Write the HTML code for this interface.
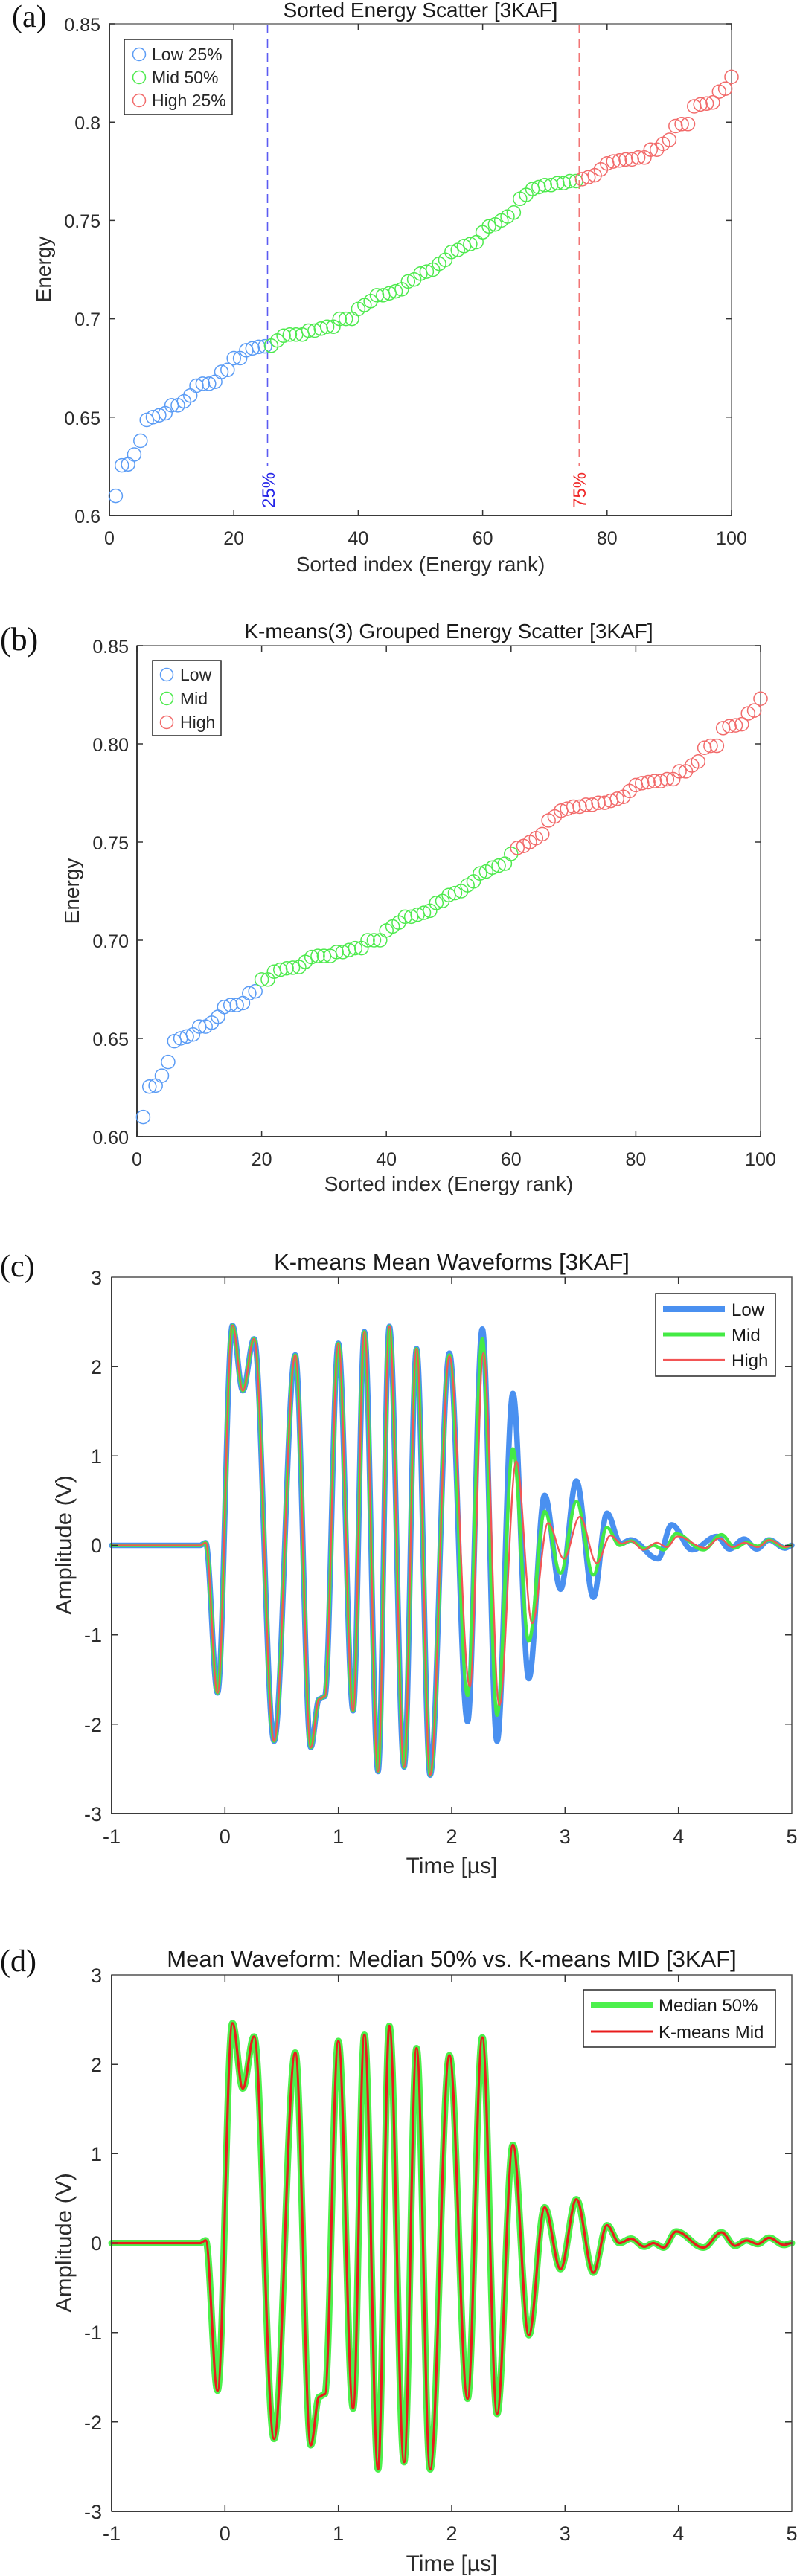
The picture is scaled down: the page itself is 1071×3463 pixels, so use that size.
<!DOCTYPE html>
<html><head><meta charset="utf-8">
<style>html,body{margin:0;padding:0;background:#fff}svg{display:block}</style>
</head><body>
<svg xmlns="http://www.w3.org/2000/svg" width="1071" height="3463" viewBox="0 0 1071 3463" font-family="'Liberation Sans', Arial, sans-serif">
<rect width="1071" height="3463" fill="#fff"/>
<defs>
<g id="gA">
<circle cx="155.4" cy="666.6" r="9"/><circle cx="163.7" cy="625.6" r="9"/><circle cx="172.1" cy="624.3" r="9"/><circle cx="180.4" cy="611.0" r="9"/><circle cx="188.8" cy="592.5" r="9"/><circle cx="197.2" cy="564.5" r="9"/><circle cx="205.5" cy="560.8" r="9"/><circle cx="213.9" cy="558.2" r="9"/><circle cx="222.2" cy="555.5" r="9"/><circle cx="230.6" cy="544.9" r="9"/><circle cx="239.0" cy="544.9" r="9"/><circle cx="247.3" cy="539.6" r="9"/><circle cx="255.7" cy="531.7" r="9"/><circle cx="264.0" cy="518.5" r="9"/><circle cx="272.4" cy="515.9" r="9"/><circle cx="280.8" cy="515.9" r="9"/><circle cx="289.1" cy="513.2" r="9"/><circle cx="297.5" cy="500.0" r="9"/><circle cx="305.8" cy="497.3" r="9"/>
</g>
<g id="gB">
<circle cx="314.2" cy="481.5" r="9"/><circle cx="322.6" cy="481.5" r="9"/><circle cx="330.9" cy="470.9" r="9"/><circle cx="339.3" cy="468.3" r="9"/><circle cx="347.6" cy="466.4" r="9"/><circle cx="356.0" cy="465.6" r="9"/>
</g>
<g id="gC">
<circle cx="364.4" cy="464.8" r="9"/><circle cx="372.7" cy="457.7" r="9"/><circle cx="381.1" cy="451.3" r="9"/><circle cx="389.4" cy="449.8" r="9"/><circle cx="397.8" cy="449.8" r="9"/><circle cx="406.2" cy="449.8" r="9"/><circle cx="414.5" cy="444.5" r="9"/><circle cx="422.9" cy="444.5" r="9"/><circle cx="431.2" cy="441.8" r="9"/><circle cx="439.6" cy="439.2" r="9"/><circle cx="448.0" cy="439.2" r="9"/><circle cx="456.3" cy="428.6" r="9"/><circle cx="464.7" cy="428.6" r="9"/><circle cx="473.0" cy="428.6" r="9"/><circle cx="481.4" cy="415.4" r="9"/><circle cx="489.8" cy="410.1" r="9"/><circle cx="498.1" cy="404.8" r="9"/><circle cx="506.5" cy="396.9" r="9"/><circle cx="514.8" cy="396.9" r="9"/><circle cx="523.2" cy="394.2" r="9"/><circle cx="531.6" cy="391.6" r="9"/><circle cx="539.9" cy="388.9" r="9"/><circle cx="548.3" cy="378.4" r="9"/><circle cx="556.6" cy="375.7" r="9"/><circle cx="565.0" cy="367.8" r="9"/><circle cx="573.4" cy="365.1" r="9"/><circle cx="581.7" cy="362.5" r="9"/><circle cx="590.1" cy="354.6" r="9"/><circle cx="598.4" cy="349.3" r="9"/><circle cx="606.8" cy="338.7" r="9"/><circle cx="615.2" cy="336.1" r="9"/><circle cx="623.5" cy="330.8" r="9"/><circle cx="631.9" cy="328.1" r="9"/><circle cx="640.2" cy="325.5" r="9"/><circle cx="648.6" cy="312.3" r="9"/>
</g>
<g id="gD">
<circle cx="657.0" cy="304.3" r="9"/><circle cx="665.3" cy="301.7" r="9"/><circle cx="673.7" cy="296.4" r="9"/><circle cx="682.0" cy="291.1" r="9"/><circle cx="690.4" cy="285.8" r="9"/><circle cx="698.8" cy="267.3" r="9"/><circle cx="707.1" cy="262.0" r="9"/><circle cx="715.5" cy="254.1" r="9"/><circle cx="723.8" cy="251.5" r="9"/><circle cx="732.2" cy="248.8" r="9"/><circle cx="740.6" cy="248.8" r="9"/><circle cx="748.9" cy="246.2" r="9"/><circle cx="757.3" cy="246.2" r="9"/><circle cx="765.6" cy="243.5" r="9"/><circle cx="774.0" cy="243.5" r="9"/>
</g>
<g id="gE">
<circle cx="782.4" cy="240.9" r="9"/><circle cx="790.7" cy="238.2" r="9"/><circle cx="799.1" cy="235.6" r="9"/><circle cx="807.4" cy="227.7" r="9"/><circle cx="815.8" cy="219.7" r="9"/><circle cx="824.2" cy="217.1" r="9"/><circle cx="832.5" cy="215.8" r="9"/><circle cx="840.9" cy="214.4" r="9"/><circle cx="849.2" cy="214.4" r="9"/><circle cx="857.6" cy="211.8" r="9"/><circle cx="866.0" cy="211.8" r="9"/><circle cx="874.3" cy="201.2" r="9"/><circle cx="882.7" cy="201.2" r="9"/><circle cx="891.0" cy="193.3" r="9"/><circle cx="899.4" cy="188.0" r="9"/><circle cx="907.8" cy="169.5" r="9"/><circle cx="916.1" cy="166.8" r="9"/><circle cx="924.5" cy="166.8" r="9"/><circle cx="932.8" cy="143.0" r="9"/><circle cx="941.2" cy="140.4" r="9"/><circle cx="949.6" cy="139.3" r="9"/><circle cx="957.9" cy="137.8" r="9"/><circle cx="966.3" cy="123.2" r="9"/><circle cx="974.6" cy="119.3" r="9"/><circle cx="983.0" cy="103.4" r="9"/>
</g>
</defs>

<!-- ===================== (a) ===================== -->
<text x="16" y="36" font-family="'Liberation Serif', 'Times New Roman', serif" font-size="42" fill="#111">(a)</text>
<text x="565" y="23" text-anchor="middle" font-size="28" fill="#1a1a1a">Sorted Energy Scatter [3KAF]</text>
<rect x="147" y="32" width="836" height="661" fill="none" stroke="#6a6a6a" stroke-width="1.5"/>
<path d="M147 32V693M147 693H983" stroke="#3a3a3a" stroke-width="2" fill="none"/>
<path d="M147 693V685M314.2 693V685M481.4 693V685M648.6 693V685M815.8 693V685M983 693V685M147 32V40M314.2 32V40M481.4 32V40M648.6 32V40M815.8 32V40M983 32V40M147 32H155M147 164.2H155M147 296.4H155M147 428.6H155M147 560.8H155M147 693H155M983 32H975M983 164.2H975M983 296.4H975M983 428.6H975M983 560.8H975M983 693H975" stroke="#333" stroke-width="1.5" fill="none"/>
<g font-size="25" fill="#2b2b2b" text-anchor="end">
<text x="135" y="42">0.85</text><text x="135" y="174">0.8</text><text x="135" y="306">0.75</text><text x="135" y="438">0.7</text><text x="135" y="571">0.65</text><text x="135" y="703">0.6</text>
</g>
<g font-size="25" fill="#2b2b2b" text-anchor="middle">
<text x="147" y="732">0</text><text x="314.2" y="732">20</text><text x="481.4" y="732">40</text><text x="648.6" y="732">60</text><text x="815.8" y="732">80</text><text x="983" y="732">100</text>
</g>
<text x="565" y="768" text-anchor="middle" font-size="28" fill="#2b2b2b">Sorted index (Energy rank)</text>
<text transform="translate(68,362) rotate(-90)" text-anchor="middle" font-size="28" fill="#2b2b2b">Energy</text>
<line x1="359.5" y1="33" x2="359.5" y2="627" stroke="#5b5bf2" stroke-width="1.6" stroke-dasharray="12 7"/>
<line x1="778.3" y1="33" x2="778.3" y2="627" stroke="#f27575" stroke-width="1.6" stroke-dasharray="12 7"/>
<g fill="none" stroke-width="1.5">
<use href="#gA" stroke="#5b9cf5"/>
<use href="#gB" stroke="#5b9cf5"/>
<use href="#gC" stroke="#4eea4e"/>
<use href="#gD" stroke="#4eea4e"/>
<use href="#gE" stroke="#f26b6b"/>
</g>
<text transform="translate(369,683) rotate(-90)" font-size="24" fill="#2626e8">25%</text>
<text transform="translate(787,683) rotate(-90)" font-size="24" fill="#f02a2a">75%</text>
<rect x="167" y="53" width="145" height="101" fill="#fff" stroke="#262626" stroke-width="1.5"/>
<circle cx="187" cy="73" r="8.5" fill="none" stroke="#5b9cf5" stroke-width="1.5"/>
<circle cx="187" cy="104" r="8.5" fill="none" stroke="#4eea4e" stroke-width="1.5"/>
<circle cx="187" cy="135" r="8.5" fill="none" stroke="#f26b6b" stroke-width="1.5"/>
<g font-size="23" fill="#262626">
<text x="204" y="81">Low 25%</text><text x="204" y="112">Mid 50%</text><text x="204" y="143">High 25%</text>
</g>

<!-- ===================== (b) ===================== -->
<text x="0" y="874" font-family="'Liberation Serif', 'Times New Roman', serif" font-size="44" fill="#111">(b)</text>
<text x="603" y="858" text-anchor="middle" font-size="28" fill="#1a1a1a">K-means(3) Grouped Energy Scatter [3KAF]</text>
<rect x="184" y="868" width="838" height="660" fill="none" stroke="#6a6a6a" stroke-width="1.5"/>
<path d="M184 868V1528M184 1528H1022" stroke="#3a3a3a" stroke-width="2" fill="none"/>
<path d="M184 1528V1520M351.6 1528V1520M519.2 1528V1520M686.8 1528V1520M854.4 1528V1520M1022 1528V1520M184 868V876M351.6 868V876M519.2 868V876M686.8 868V876M854.4 868V876M1022 868V876M184 868H192M184 1000H192M184 1132H192M184 1264H192M184 1396H192M184 1528H192M1022 868H1014M1022 1000H1014M1022 1132H1014M1022 1264H1014M1022 1396H1014M1022 1528H1014" stroke="#333" stroke-width="1.5" fill="none"/>
<g font-size="25" fill="#2b2b2b" text-anchor="end">
<text x="173" y="878">0.85</text><text x="173" y="1010">0.80</text><text x="173" y="1142">0.75</text><text x="173" y="1274">0.70</text><text x="173" y="1406">0.65</text><text x="173" y="1538">0.60</text>
</g>
<g font-size="25" fill="#2b2b2b" text-anchor="middle">
<text x="184" y="1567">0</text><text x="351.6" y="1567">20</text><text x="519.2" y="1567">40</text><text x="686.8" y="1567">60</text><text x="854.4" y="1567">80</text><text x="1022" y="1567">100</text>
</g>
<text x="603" y="1601" text-anchor="middle" font-size="28" fill="#2b2b2b">Sorted index (Energy rank)</text>
<text transform="translate(106,1198) rotate(-90)" text-anchor="middle" font-size="28" fill="#2b2b2b">Energy</text>
<g fill="none" stroke-width="1.5" transform="matrix(1.002392 0 0 0.998487 36.648 836.05)">
<use href="#gA" stroke="#5b9cf5"/>
<use href="#gB" stroke="#4eea4e"/>
<use href="#gC" stroke="#4eea4e"/>
<use href="#gD" stroke="#f26b6b"/>
<use href="#gE" stroke="#f26b6b"/>
</g>
<rect x="205" y="888" width="92" height="101" fill="#fff" stroke="#262626" stroke-width="1.5"/>
<circle cx="224" cy="907" r="8.5" fill="none" stroke="#5b9cf5" stroke-width="1.5"/>
<circle cx="224" cy="939" r="8.5" fill="none" stroke="#4eea4e" stroke-width="1.5"/>
<circle cx="224" cy="971" r="8.5" fill="none" stroke="#f26b6b" stroke-width="1.5"/>
<g font-size="23" fill="#262626">
<text x="242" y="915">Low</text><text x="242" y="947">Mid</text><text x="242" y="979">High</text>
</g>

<!-- ===================== (c) ===================== -->
<text x="0" y="1716" font-family="'Liberation Serif', 'Times New Roman', serif" font-size="42" fill="#111">(c)</text>
<text x="607" y="1707" text-anchor="middle" font-size="31" fill="#1a1a1a">K-means Mean Waveforms [3KAF]</text>
<g transform="translate(302.33,2077.5) scale(1.52333,1.2017)" fill="none" stroke-linejoin="round" stroke-linecap="round">
<path vector-effect="non-scaling-stroke" stroke="#4a90f0" stroke-width="7.5" d="M-100 0L-22 0C-20.2 0 -18.8 -3 -17 -3C-13.3 -3 -10.3 165 -6.6 165C-1.8 165 1.8 -246 6.6 -246C9.9 -246 12.4 -173 15.7 -173C19.3 -173 22 -231 25.6 -231C32 -231 36.9 219 43.3 219C50 219 55.3 -213 62 -213C66.9 -213 70.8 226 75.7 226C78.3 226 80.4 172 83 172C84.8 172 86.2 169 88 169C92.3 169 95.7 -226 100 -226C104.7 -226 108.3 185 113 185C116.6 185 119.4 -239 123 -239C127.3 -239 130.7 253 135 253C138.6 253 141.4 -245 145 -245C149.7 -245 153.3 248 158 248C162 248 165 -220 169 -220C173.3 -220 176.7 257 181 257C187.1 257 191.9 -215 198 -215C203.8 -215 208.2 197 214 197C218.7 197 222.3 -242 227 -242C231.7 -242 235.3 219 240 219C245 219 249 -170 254 -170C259 -170 263 149 268 149C273 149 277 -56 282 -56C287 -56 291 49 296 49C301 49 305 -72 310 -72C315.4 -72 319.6 58 325 58C329.3 58 332.7 -36 337 -36C341.3 -36 344.7 -2 349 -2C352.2 -2 354.8 -6 358 -6C366.6 -6 373.4 15 382 15C386.3 15 389.7 -23 394 -23C400.5 -23 405.5 5 412 5C419.9 5 426.1 -10 434 -10C438 -10 441 4 445 4C449.7 4 453.3 -7 458 -7C462 -7 465 4 469 4C473 4 476 -6 480 -6C485 -6 489 3 494 3C496.2 3 497.8 0 500 0"/>
<path vector-effect="non-scaling-stroke" stroke="#44ea44" stroke-width="4.5" d="M-100 0L-22 0C-20.2 0 -18.8 -3 -17 -3C-13.3 -3 -10.3 165 -6.6 165C-1.8 165 1.8 -246 6.6 -246C9.9 -246 12.4 -173 15.7 -173C19.3 -173 22 -231 25.6 -231C32 -231 36.9 219 43.3 219C50 219 55.3 -213 62 -213C66.9 -213 70.8 226 75.7 226C78.3 226 80.4 172 83 172C84.8 172 86.2 169 88 169C92.3 169 95.7 -226 100 -226C104.7 -226 108.3 185 113 185C116.6 185 119.4 -239 123 -239C127.3 -239 130.7 253 135 253C138.6 253 141.4 -245 145 -245C149.7 -245 153.3 248 158 248C162 248 165 -220 169 -220C173.3 -220 176.7 257 181 257C187.1 257 191.9 -213 198 -213C203.8 -213 208.2 168 214 168C218.7 168 222.3 -231 227 -231C231.7 -231 235.3 190 240 190C245 190 249 -108 254 -108C259 -108 263 107 268 107C273 107 277 -38 282 -38C287 -38 291 31 296 31C301 31 305 -49 310 -49C315.4 -49 319.6 33 325 33C329.3 33 332.7 -20 337 -20C341 -20 344 0 348 0C351.6 0 354.4 -5 358 -5C362.3 -5 365.7 4 370 4C372.9 4 375.1 0 378 0C381.2 0 383.8 5 387 5C391 5 394 -13 398 -13C406.6 -13 413.4 5 422 5C427.8 5 432.2 -12 438 -12C442.3 -12 445.7 3 450 3C453.6 3 456.4 -3 460 -3C463.6 -3 466.4 1 470 1C473.6 1 476.4 -6 480 -6C484.7 -6 488.3 2 493 2C495.5 2 497.5 0 500 0"/>
<path vector-effect="non-scaling-stroke" stroke="#f25555" stroke-width="2.3" d="M-100 0L-22 0C-20.2 0 -18.8 -3 -17 -3C-13.3 -3 -10.3 165 -6.6 165C-1.8 165 1.8 -246 6.6 -246C9.9 -246 12.4 -173 15.7 -173C19.3 -173 22 -231 25.6 -231C32 -231 36.9 219 43.3 219C50 219 55.3 -213 62 -213C66.9 -213 70.8 226 75.7 226C78.3 226 80.4 172 83 172C84.8 172 86.2 169 88 169C92.3 169 95.7 -226 100 -226C104.7 -226 108.3 185 113 185C116.6 185 119.4 -239 123 -239C127.3 -239 130.7 253 135 253C138.6 253 141.4 -245 145 -245C149.7 -245 153.3 248 158 248C162 248 165 -220 169 -220C173.3 -220 176.7 257 181 257C187.1 257 191.9 -212 198 -212C204.5 -212 209.5 158 216 158C220.3 158 223.7 -215 228 -215C233 -215 237 179 242 179C247.4 179 251.6 -94 257 -94C262 -94 266 87 271 87C276 87 280 -25 285 -25C290 -25 294 15 299 15C304 15 308 -32 313 -32C318.4 -32 322.6 20 328 20C332.3 20 335.7 -11 340 -11C343.6 -11 346.4 -2 350 -2C352.9 -2 355.1 -5 358 -5C362 -5 365 5 369 5C373.3 5 376.7 -3 381 -3C384.2 -3 386.8 2 390 2C393.2 2 395.8 -10 399 -10C408 -10 415 3 424 3C428.3 3 431.7 -8 436 -8C440.3 -8 443.7 2 448 2C451.6 2 454.4 -3 458 -3C462.3 -3 465.7 2 470 2C473.6 2 476.4 -6 480 -6C485.4 -6 489.6 2 495 2C496.8 2 498.2 0 500 0"/>
</g>
<rect x="150" y="1717" width="914" height="721" fill="none" stroke="#505050" stroke-width="1.5"/>
<path d="M150 1717V2438M150 2438H1064" stroke="#3a3a3a" stroke-width="2" fill="none"/>
<path d="M302.3 2438V2429M454.7 2438V2429M607 2438V2429M759.3 2438V2429M911.7 2438V2429M302.3 1717V1726M454.7 1717V1726M607 1717V1726M759.3 1717V1726M911.7 1717V1726M150 1837.2H159M150 1957.3H159M150 2077.5H159M150 2197.7H159M150 2317.8H159M1064 1837.2H1055M1064 1957.3H1055M1064 2077.5H1055M1064 2197.7H1055M1064 2317.8H1055" stroke="#333" stroke-width="1.5" fill="none"/>
<g font-size="27" fill="#2b2b2b" text-anchor="end">
<text x="137" y="1727">3</text><text x="137" y="1847">2</text><text x="137" y="1967">1</text><text x="137" y="2087">0</text><text x="137" y="2207">-1</text><text x="137" y="2328">-2</text><text x="137" y="2448">-3</text>
</g>
<g font-size="27" fill="#2b2b2b" text-anchor="middle">
<text x="150" y="2478">-1</text><text x="302.3" y="2478">0</text><text x="454.7" y="2478">1</text><text x="607" y="2478">2</text><text x="759.3" y="2478">3</text><text x="911.7" y="2478">4</text><text x="1064" y="2478">5</text>
</g>
<text x="607" y="2518" text-anchor="middle" font-size="30" fill="#2b2b2b">Time [µs]</text>
<text transform="translate(96,2077) rotate(-90)" text-anchor="middle" font-size="31" fill="#2b2b2b">Amplitude (V)</text>
<rect x="881" y="1739" width="161" height="111" fill="#fff" stroke="#262626" stroke-width="1.5"/>
<line x1="891" y1="1760" x2="974" y2="1760" stroke="#4a90f0" stroke-width="8"/>
<line x1="891" y1="1794" x2="974" y2="1794" stroke="#44ea44" stroke-width="5"/>
<line x1="891" y1="1828" x2="974" y2="1828" stroke="#f25555" stroke-width="2.3"/>
<g font-size="24" fill="#1a1a1a">
<text x="983" y="1769">Low</text><text x="983" y="1803">Mid</text><text x="983" y="1837">High</text>
</g>

<!-- ===================== (d) ===================== -->
<text x="0" y="2650" font-family="'Liberation Serif', 'Times New Roman', serif" font-size="42" fill="#111">(d)</text>
<text x="607" y="2644" text-anchor="middle" font-size="31" fill="#1a1a1a">Mean Waveform: Median 50% vs. K-means MID [3KAF]</text>
<g transform="translate(302.33,3015.5) scale(1.52333,1.2017)" fill="none" stroke-linejoin="round" stroke-linecap="round">
<path vector-effect="non-scaling-stroke" stroke="#4cf04c" stroke-width="9" d="M-100 0L-22 0C-20.2 0 -18.8 -3 -17 -3C-13.3 -3 -10.3 165 -6.6 165C-1.8 165 1.8 -246 6.6 -246C9.9 -246 12.4 -173 15.7 -173C19.3 -173 22 -231 25.6 -231C32 -231 36.9 219 43.3 219C50 219 55.3 -213 62 -213C66.9 -213 70.8 226 75.7 226C78.3 226 80.4 172 83 172C84.8 172 86.2 169 88 169C92.3 169 95.7 -226 100 -226C104.7 -226 108.3 185 113 185C116.6 185 119.4 -233 123 -233C127.3 -233 130.7 253 135 253C138.6 253 141.4 -243 145 -243C149.7 -243 153.3 245 158 245C162 245 165 -218 169 -218C173.3 -218 176.7 253 181 253C187.1 253 191.9 -210 198 -210C203.8 -210 208.2 174 214 174C218.7 174 222.3 -230 227 -230C231.7 -230 235.3 191 240 191C245 191 249 -110 254 -110C259 -110 263 103 268 103C273 103 277 -40 282 -40C287 -40 291 29 296 29C301 29 305 -49 310 -49C315.4 -49 319.6 33 325 33C329.3 33 332.7 -20 337 -20C341 -20 344 0 348 0C351.6 0 354.4 -5 358 -5C362.3 -5 365.7 4 370 4C372.9 4 375.1 0 378 0C381.2 0 383.8 5 387 5C391 5 394 -13 398 -13C406.6 -13 413.4 5 422 5C427.8 5 432.2 -12 438 -12C442.3 -12 445.7 3 450 3C453.6 3 456.4 -3 460 -3C463.6 -3 466.4 1 470 1C473.6 1 476.4 -6 480 -6C484.7 -6 488.3 2 493 2C495.5 2 497.5 0 500 0"/>
<path vector-effect="non-scaling-stroke" stroke="#e81c1c" stroke-width="3.2" d="M-100 0L-22 0C-20.2 0 -18.8 -3 -17 -3C-13.3 -3 -10.3 165 -6.6 165C-1.8 165 1.8 -246 6.6 -246C9.9 -246 12.4 -173 15.7 -173C19.3 -173 22 -231 25.6 -231C32 -231 36.9 219 43.3 219C50 219 55.3 -213 62 -213C66.9 -213 70.8 226 75.7 226C78.3 226 80.4 172 83 172C84.8 172 86.2 169 88 169C92.3 169 95.7 -226 100 -226C104.7 -226 108.3 185 113 185C116.6 185 119.4 -233 123 -233C127.3 -233 130.7 253 135 253C138.6 253 141.4 -243 145 -243C149.7 -243 153.3 245 158 245C162 245 165 -218 169 -218C173.3 -218 176.7 253 181 253C187.1 253 191.9 -210 198 -210C203.8 -210 208.2 174 214 174C218.7 174 222.3 -230 227 -230C231.7 -230 235.3 191 240 191C245 191 249 -110 254 -110C259 -110 263 103 268 103C273 103 277 -40 282 -40C287 -40 291 29 296 29C301 29 305 -49 310 -49C315.4 -49 319.6 33 325 33C329.3 33 332.7 -20 337 -20C341 -20 344 0 348 0C351.6 0 354.4 -5 358 -5C362.3 -5 365.7 4 370 4C372.9 4 375.1 0 378 0C381.2 0 383.8 5 387 5C391 5 394 -13 398 -13C406.6 -13 413.4 5 422 5C427.8 5 432.2 -12 438 -12C442.3 -12 445.7 3 450 3C453.6 3 456.4 -3 460 -3C463.6 -3 466.4 1 470 1C473.6 1 476.4 -6 480 -6C484.7 -6 488.3 2 493 2C495.5 2 497.5 0 500 0"/>
</g>
<rect x="150" y="2655" width="914" height="721" fill="none" stroke="#505050" stroke-width="1.5"/>
<path d="M150 2655V3376M150 3376H1064" stroke="#3a3a3a" stroke-width="2" fill="none"/>
<path d="M302.3 3376V3367M454.7 3376V3367M607 3376V3367M759.3 3376V3367M911.7 3376V3367M302.3 2655V2664M454.7 2655V2664M607 2655V2664M759.3 2655V2664M911.7 2655V2664M150 2775.2H159M150 2895.3H159M150 3015.5H159M150 3135.7H159M150 3255.8H159M1064 2775.2H1055M1064 2895.3H1055M1064 3015.5H1055M1064 3135.7H1055M1064 3255.8H1055" stroke="#333" stroke-width="1.5" fill="none"/>
<g font-size="27" fill="#2b2b2b" text-anchor="end">
<text x="137" y="2665">3</text><text x="137" y="2785">2</text><text x="137" y="2905">1</text><text x="137" y="3025">0</text><text x="137" y="3145">-1</text><text x="137" y="3266">-2</text><text x="137" y="3386">-3</text>
</g>
<g font-size="27" fill="#2b2b2b" text-anchor="middle">
<text x="150" y="3415">-1</text><text x="302.3" y="3415">0</text><text x="454.7" y="3415">1</text><text x="607" y="3415">2</text><text x="759.3" y="3415">3</text><text x="911.7" y="3415">4</text><text x="1064" y="3415">5</text>
</g>
<text x="607" y="3456" text-anchor="middle" font-size="30" fill="#2b2b2b">Time [µs]</text>
<text transform="translate(96,3015) rotate(-90)" text-anchor="middle" font-size="31" fill="#2b2b2b">Amplitude (V)</text>
<rect x="784" y="2675" width="258" height="77" fill="#fff" stroke="#262626" stroke-width="1.5"/>
<line x1="794" y1="2695" x2="877" y2="2695" stroke="#4cf04c" stroke-width="8"/>
<line x1="794" y1="2731" x2="877" y2="2731" stroke="#e81c1c" stroke-width="3"/>
<g font-size="24" fill="#1a1a1a">
<text x="885" y="2704">Median 50%</text><text x="885" y="2740">K-means Mid</text>
</g>
</svg>
</body></html>
